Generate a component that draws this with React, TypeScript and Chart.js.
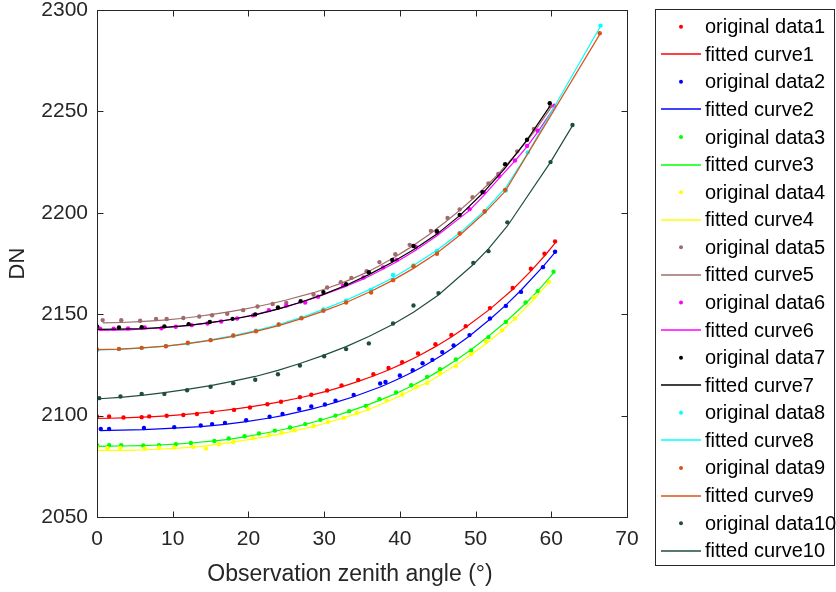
import React, { useEffect, useRef } from "react";
import { Chart, registerables } from "chart.js";

Chart.register(...registerables);

// ---------- data ----------
const X1 = [0, 1.6, 3.5, 5.9, 6.9, 9.2, 11.4, 13.2, 15.2, 18.1, 20.2, 22.5, 24.3, 26.8, 28.3, 30.4, 32.3, 34.5, 36.5, 38.5, 40.3, 42.4, 44.7, 46.8, 48.7, 51.9, 54.9, 57.3, 59.1, 60.5];
const D1 = [2099.6, 2099.6, 2099.1, 2099.2, 2099.6, 2099.9, 2100.3, 2100.8, 2101.7, 2102.8, 2104.0, 2105.6, 2106.8, 2109.1, 2110.3, 2112.4, 2114.9, 2117.6, 2120.4, 2123.5, 2126.3, 2130.6, 2135.2, 2139.8, 2144.1, 2153.0, 2162.9, 2172.4, 2179.8, 2185.9];
const F1 = [2098.6, 2098.7, 2098.9, 2099.2, 2099.4, 2099.9, 2100.5, 2101.1, 2101.9, 2103.2, 2104.3, 2105.7, 2106.9, 2108.8, 2110.1, 2112.1, 2114.2, 2116.9, 2119.5, 2122.5, 2125.5, 2129.3, 2134.0, 2138.8, 2143.6, 2152.5, 2162.2, 2171.2, 2178.7, 2185.0];

const X2 = [0.5, 1.6, 6.2, 10.2, 13.7, 15.2, 16.9, 19.7, 22.8, 24.5, 26.7, 28.3, 30.1, 31.5, 33.9, 37.4, 38.1, 40.0, 41.7, 43.0, 44.3, 45.6, 47.1, 49.2, 51.9, 54.0, 56.0, 58.9, 60.5];
const D2 = [2093.4, 2093.4, 2093.9, 2094.3, 2095.1, 2095.8, 2096.4, 2097.7, 2099.4, 2100.8, 2103.3, 2104.5, 2105.5, 2107.4, 2110.2, 2115.8, 2116.6, 2119.8, 2122.4, 2125.8, 2127.5, 2131.3, 2134.6, 2139.7, 2147.9, 2154.1, 2161.0, 2173.2, 2180.8];
const F2 = [2092.6, 2092.7, 2093.1, 2093.8, 2094.6, 2095.1, 2095.7, 2097.0, 2098.8, 2100.0, 2101.8, 2103.2, 2105.0, 2106.5, 2109.3, 2114.1, 2115.2, 2118.4, 2121.5, 2124.1, 2126.9, 2129.9, 2133.6, 2139.3, 2147.5, 2154.5, 2161.8, 2173.5, 2180.5];

const X3 = [0, 1.6, 3.2, 6.1, 8.2, 10.4, 12.4, 15.5, 17.4, 19.5, 21.4, 23.5, 25.5, 27.5, 29.5, 31.5, 33.3, 35.5, 37.3, 39.5, 41.5, 43.6, 45.3, 47.4, 49.4, 51.7, 54.0, 56.6, 58.2, 60.3];
const D3 = [2085.4, 2085.4, 2085.4, 2085.3, 2085.4, 2085.9, 2086.5, 2087.5, 2088.7, 2089.8, 2091.2, 2092.6, 2094.1, 2095.8, 2097.9, 2100.0, 2102.2, 2104.8, 2108.1, 2111.4, 2115.0, 2119.1, 2122.9, 2127.7, 2132.1, 2138.7, 2146.2, 2155.8, 2161.4, 2170.9];
const F3 = [2084.8, 2084.9, 2085.0, 2085.2, 2085.5, 2085.9, 2086.5, 2087.5, 2088.3, 2089.5, 2090.8, 2092.3, 2093.9, 2095.7, 2097.7, 2099.9, 2102.1, 2104.9, 2107.5, 2110.9, 2114.5, 2118.6, 2122.3, 2127.3, 2132.5, 2139.1, 2146.3, 2155.3, 2161.4, 2170.4];

const X4 = [0, 1.4, 3.1, 6.3, 8.2, 10.2, 12.7, 14.4, 16.1, 18.0, 20.6, 22.7, 24.4, 26.1, 28.6, 30.5, 32.6, 34.3, 35.8, 38.3, 40.3, 42.2, 43.6, 45.3, 47.4, 49.4, 51.4, 53.5, 55.2, 57.7, 59.7];
const D4 = [2084.3, 2083.9, 2084.1, 2083.8, 2084.3, 2084.3, 2084.6, 2083.8, 2085.9, 2087.0, 2088.8, 2090.4, 2091.6, 2092.8, 2094.8, 2096.9, 2098.9, 2101.3, 2103.3, 2107.4, 2110.4, 2114.2, 2116.1, 2120.9, 2124.5, 2130.3, 2136.4, 2142.0, 2147.9, 2158.3, 2165.9];
const F4 = [2082.9, 2082.9, 2082.9, 2083.1, 2083.4, 2083.8, 2084.5, 2085.1, 2085.9, 2086.9, 2088.5, 2089.9, 2091.1, 2092.5, 2094.7, 2096.6, 2098.9, 2101.0, 2102.9, 2106.8, 2110.2, 2113.9, 2116.3, 2120.0, 2124.9, 2130.0, 2135.6, 2142.0, 2147.8, 2157.3, 2165.8];

const X5 = [0.75, 3.2, 5.7, 7.8, 9.2, 11.4, 13.5, 15.2, 17.2, 19.3, 21.2, 23.2, 25.0, 28.6, 30.4, 32.2, 33.6, 35.6, 37.3, 39.4, 41.3, 44.1, 46.3, 47.9, 49.6, 51.7, 53.0, 55.5, 57.7, 59.9];
const D5 = [2147.1, 2147.0, 2146.8, 2147.6, 2147.6, 2148.1, 2148.9, 2149.5, 2150.2, 2152.0, 2153.8, 2155.0, 2155.6, 2159.7, 2163.2, 2165.8, 2167.9, 2171.2, 2175.7, 2179.6, 2184.2, 2191.1, 2197.4, 2201.7, 2207.7, 2214.5, 2219.1, 2230.3, 2241.3, 2252.5];
const F5 = [2145.7, 2145.9, 2146.3, 2146.8, 2147.2, 2148.0, 2149.0, 2149.9, 2151.0, 2152.4, 2153.8, 2155.4, 2157.0, 2160.6, 2162.8, 2165.2, 2167.3, 2170.6, 2173.9, 2178.3, 2182.7, 2189.9, 2196.3, 2201.2, 2206.8, 2214.2, 2219.2, 2229.6, 2239.8, 2251.5];

const X6 = [0.4, 2.2, 4.1, 6.3, 8.5, 10.4, 12.5, 14.6, 16.4, 18.5, 20.6, 22.7, 25.0, 27.5, 29.2, 32.5, 35.2, 37.8, 39.6, 42.1, 44.9, 49.2, 51.1, 53.1, 55.2, 56.8, 58.2, 60.4];
const D6 = [2142.8, 2142.8, 2143.0, 2143.5, 2143.1, 2143.8, 2144.6, 2145.4, 2146.4, 2147.9, 2149.4, 2152.0, 2154.3, 2155.8, 2158.6, 2164.0, 2168.1, 2173.1, 2176.8, 2183.1, 2190.3, 2201.8, 2210.1, 2218.1, 2225.8, 2233.0, 2240.5, 2252.8];
const F6 = [2142.0, 2142.1, 2142.3, 2142.7, 2143.2, 2143.8, 2144.6, 2145.6, 2146.6, 2148.0, 2149.6, 2151.5, 2153.7, 2156.5, 2158.6, 2163.2, 2167.4, 2172.3, 2175.9, 2181.5, 2188.7, 2201.2, 2208.6, 2217.0, 2225.6, 2232.6, 2239.8, 2252.0];

const X7 = [0, 2.9, 5.9, 8.9, 12.1, 14.9, 17.9, 20.9, 23.9, 26.9, 29.9, 32.9, 35.9, 39.0, 41.8, 44.9, 47.9, 50.9, 53.9, 56.8, 59.8];
const D7 = [2144.0, 2143.5, 2143.6, 2144.0, 2145.1, 2146.2, 2147.7, 2149.9, 2153.3, 2156.4, 2160.9, 2164.8, 2170.7, 2176.7, 2183.6, 2190.9, 2199.0, 2210.2, 2224.0, 2236.0, 2254.0];
const F7 = [2142.5, 2142.6, 2142.9, 2143.5, 2144.5, 2145.8, 2147.5, 2149.7, 2152.5, 2155.9, 2159.8, 2164.3, 2169.5, 2175.6, 2181.8, 2189.5, 2198.6, 2209.5, 2222.0, 2236.0, 2252.5];

const X8 = [0, 2.9, 5.9, 9.1, 12.0, 15.0, 18.0, 21.0, 24.0, 27.0, 29.9, 32.9, 36.2, 39.1, 41.8, 44.9, 47.9, 51.2, 54.0, 56.9, 66.5];
const D8 = [2132.5, 2132.8, 2133.4, 2134.3, 2135.6, 2137.3, 2139.4, 2141.9, 2144.9, 2148.3, 2152.3, 2156.6, 2162.0, 2169.3, 2174.0, 2181.2, 2190.0, 2200.5, 2211.0, 2229.8, 2292.3];
const F8 = [2132.4, 2132.7, 2133.3, 2134.3, 2135.6, 2137.3, 2139.4, 2141.9, 2144.9, 2148.4, 2152.4, 2156.9, 2162.5, 2168.0, 2174.0, 2181.5, 2190.0, 2201.0, 2212.5, 2229.5, 2292.0];

const X9 = [0, 2.9, 5.9, 9.1, 12.0, 15.0, 18.0, 21.0, 24.0, 27.0, 29.9, 32.9, 36.2, 39.1, 41.8, 44.9, 47.9, 51.2, 53.9, 66.4];
const D9 = [2132.6, 2132.9, 2133.4, 2134.2, 2135.9, 2137.2, 2139.5, 2141.6, 2144.9, 2148.0, 2151.7, 2155.8, 2160.7, 2166.8, 2173.7, 2179.8, 2189.8, 2200.8, 2211.3, 2288.5];
const F9 = [2132.5, 2132.8, 2133.4, 2134.3, 2135.5, 2137.1, 2139.1, 2141.5, 2144.4, 2147.8, 2151.5, 2155.8, 2161.3, 2166.8, 2172.6, 2180.2, 2188.9, 2200.0, 2210.6, 2288.0];

const X10 = [0.3, 3.1, 5.9, 8.9, 11.9, 15.0, 18.0, 20.9, 23.9, 26.8, 30.0, 32.9, 35.9, 39.1, 41.8, 45.1, 49.7, 51.7, 54.2, 59.9, 62.8];
const D10 = [2108.6, 2109.4, 2110.7, 2110.7, 2112.5, 2114.2, 2116.0, 2117.7, 2120.4, 2124.7, 2129.3, 2132.8, 2135.6, 2145.4, 2154.3, 2160.4, 2175.3, 2181.1, 2195.3, 2225.0, 2243.3];
const F10 = [2108.3, 2109.0, 2110.0, 2111.3, 2112.9, 2114.8, 2117.0, 2119.3, 2122.3, 2125.7, 2129.8, 2134.0, 2139.0, 2145.0, 2151.0, 2159.5, 2174.5, 2182.2, 2193.5, 2225.0, 2243.0];

const X_TICKS = [0, 10, 20, 30, 40, 50, 60, 70];
const Y_TICKS = [2050, 2100, 2150, 2200, 2250, 2300];
const X_TITLE = "Observation zenith angle (°)";
const Y_TITLE = "DN";
const DATA_LABEL = "original data";
const CURVE_LABEL = "fitted curve";
const COLORS = ["#ff0000", "#0000ff", "#00ff00", "#ffff00", "#a06b6b", "#ff00ff", "#000000", "#00ffff", "#d95319", "#1f4e3b"];

const XS = [X1, X2, X3, X4, X5, X6, X7, X8, X9, X10];
const DS = [D1, D2, D3, D4, D5, D6, D7, D8, D9, D10];
const FS = [F1, F2, F3, F4, F5, F6, F7, F8, F9, F10];

const FONT = "'Liberation Sans', Arial, Helvetica, sans-serif";
const AXIS_COLOR = "#262626";

function pts(x: number[], y: number[]) {
  return x.map((v, i) => ({ x: v, y: y[i] }));
}

const axesBoxPlugin = {
  id: "axesBox",
  afterDatasetsDraw(chart: any) {
    const { ctx, chartArea, scales } = chart;
    const l = Math.round(chartArea.left) + 0.5;
    const r = Math.round(chartArea.right) + 0.5;
    const t = Math.round(chartArea.top) + 0.5;
    const b = Math.round(chartArea.bottom) + 0.5;
    ctx.save();
    ctx.strokeStyle = AXIS_COLOR;
    ctx.lineWidth = 1;
    ctx.strokeRect(l, t, r - l, b - t);
    const tl = 6;
    ctx.beginPath();
    for (const v of X_TICKS) {
      const px = Math.round(scales.x.getPixelForValue(v)) + 0.5;
      ctx.moveTo(px, b);
      ctx.lineTo(px, b - tl);
      ctx.moveTo(px, t);
      ctx.lineTo(px, t + tl);
    }
    for (const v of Y_TICKS) {
      const py = Math.round(scales.y.getPixelForValue(v)) + 0.5;
      ctx.moveTo(l, py);
      ctx.lineTo(l + tl, py);
      ctx.moveTo(r, py);
      ctx.lineTo(r - tl, py);
    }
    ctx.stroke();
    // x-axis title
    ctx.fillStyle = AXIS_COLOR;
    ctx.font = `23px ${FONT}`;
    ctx.textAlign = "center";
    ctx.textBaseline = "middle";
    ctx.fillText(X_TITLE, 350, 575);
    ctx.restore();
  },
};

const legendBoxPlugin = {
  id: "legendBox",
  afterDraw(chart: any) {
    const { ctx } = chart;
    const datasets = chart.data.datasets;
    const boxL = 655.5;
    const boxT = 9.5;
    const boxR = 834.5;
    const boxB = 565.5;
    ctx.save();
    ctx.fillStyle = "#ffffff";
    ctx.fillRect(boxL, boxT, boxR - boxL, boxB - boxT);
    ctx.strokeStyle = AXIS_COLOR;
    ctx.lineWidth = 1;
    ctx.strokeRect(boxL, boxT, boxR - boxL, boxB - boxT);
    const rowH = 27.58;
    const firstY = 26.7;
    ctx.font = `20px ${FONT}`;
    ctx.textBaseline = "middle";
    ctx.textAlign = "left";
    datasets.forEach((ds: any, i: number) => {
      const y = firstY + i * rowH;
      if (ds.showLine) {
        ctx.strokeStyle = ds.borderColor;
        ctx.lineWidth = 1.5;
        ctx.beginPath();
        ctx.moveTo(661, Math.round(y));
        ctx.lineTo(701, Math.round(y));
        ctx.stroke();
      } else {
        ctx.fillStyle = ds.pointBackgroundColor;
        ctx.beginPath();
        ctx.arc(681, y, 2, 0, Math.PI * 2);
        ctx.fill();
      }
      ctx.fillStyle = "#000000";
      ctx.fillText(ds.label, 705, y + 1);
    });
    ctx.restore();
  },
};

export default function App() {
  const canvasRef = useRef<HTMLCanvasElement | null>(null);

  useEffect(() => {
    if (!canvasRef.current) return;
    const datasets: any[] = [];
    let k = 0;
    for (let i = 0; i < 10; i++) {
      datasets.push({
        label: `${DATA_LABEL}${i + 1}`,
        data: pts(XS[i], DS[i]),
        showLine: false,
        pointRadius: 2.2,
        pointHoverRadius: 2.2,
        pointBorderWidth: 0,
        pointBackgroundColor: COLORS[i],
        pointBorderColor: COLORS[i],
        backgroundColor: COLORS[i],
        order: 100 - k++,
      });
      datasets.push({
        label: `${CURVE_LABEL}${i + 1}`,
        data: pts(XS[i], FS[i]),
        showLine: true,
        pointRadius: 0,
        borderColor: COLORS[i],
        borderWidth: 1.2,
        backgroundColor: COLORS[i],
        tension: 0,
        order: 100 - k++,
      });
    }

    const chart = new Chart(canvasRef.current, {
      type: "scatter",
      data: { datasets },
      options: {
        animation: false,
        responsive: false,
        devicePixelRatio: 1,
        layout: { padding: { left: 0, right: 209, top: 0, bottom: 0 } },
        plugins: {
          legend: { display: false },
          tooltip: { enabled: false },
        },
        scales: {
          x: {
            type: "linear",
            min: 0,
            max: 70,
            afterBuildTicks: (scale: any) => {
              scale.ticks = X_TICKS.map((v) => ({ value: v }));
            },
            afterFit: (scale: any) => {
              scale.height = 75;
              scale.paddingLeft = 0;
              scale.paddingRight = 0;
            },
            grid: { display: false, drawTicks: false },
            border: { display: false },
            ticks: {
              color: AXIS_COLOR,
              font: { family: FONT, size: 21 },
              padding: 10,
              maxRotation: 0,
              autoSkip: false,
              callback: (v: any) => String(v),
            },
            title: { display: false },
          },
          y: {
            type: "linear",
            min: 2050,
            max: 2300,
            afterBuildTicks: (scale: any) => {
              scale.ticks = Y_TICKS.map((v) => ({ value: v }));
            },
            afterFit: (scale: any) => {
              scale.width = 97;
              scale.paddingTop = 10;
              scale.paddingBottom = 0;
            },
            grid: { display: false, drawTicks: false },
            border: { display: false },
            ticks: {
              color: AXIS_COLOR,
              font: { family: FONT, size: 21 },
              padding: 9,
              autoSkip: false,
              callback: (v: any) => String(v),
            },
            title: {
              display: true,
              text: Y_TITLE,
              color: AXIS_COLOR,
              font: { family: FONT, size: 22 },
              padding: { top: 5, bottom: 0 },
            },
          },
        },
      },
      plugins: [axesBoxPlugin, legendBoxPlugin],
    });
    return () => chart.destroy();
  }, []);

  return (
    <div style={{ position: "absolute", left: 0, top: 0, width: 836, height: 592, background: "#ffffff" }}>
      <canvas ref={canvasRef} width={836} height={592} style={{ display: "block", width: 836, height: 592 }} />
    </div>
  );
}
